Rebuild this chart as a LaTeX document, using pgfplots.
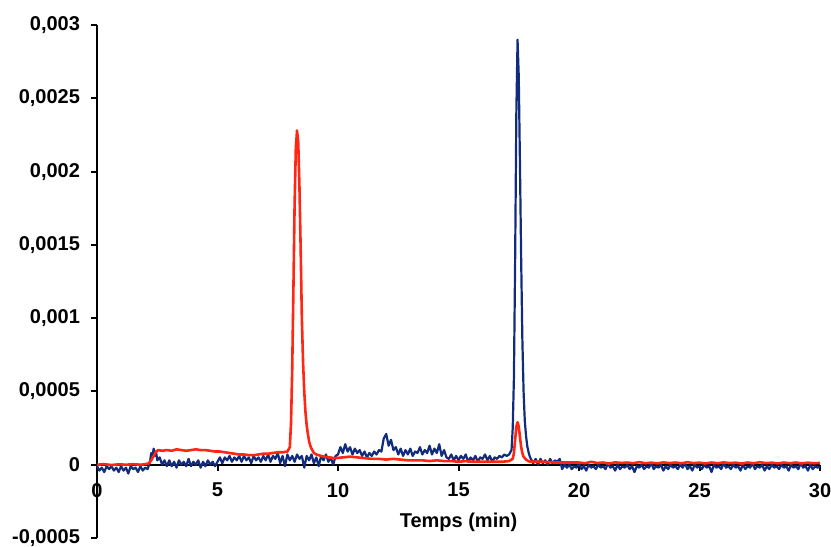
\documentclass[border=0pt]{standalone}
\usepackage{pgfplots}
\pgfplotsset{compat=1.18}
\usepackage{fontspec}
\setmainfont{Liberation Sans}
\definecolor{navy}{RGB}{18,44,125}
\definecolor{redl}{RGB}{255,38,20}
\begin{document}
\begin{tikzpicture}
\begin{axis}[
  name=ax,
  scale only axis,
  width=361.5pt, height=256.5pt,
  xmin=0, xmax=30, ymin=-0.0005, ymax=0.003,
  scaled y ticks=false,
  axis lines=middle,
  axis line style={-, line width=1pt, black},
  every inner x axis line/.append style={-},
  every inner y axis line/.append style={-},
  hide obscured x ticks=false, hide obscured y ticks=false,
  tick align=outside,
  major tick length=3pt,
  tick style={line width=1pt, black},
  xtick={0,5,10,15,20,25,30},
  xticklabels={0,5,10,15,20,25,30},
  ytick={-0.0005,0,0.0005,0.001,0.0015,0.002,0.0025,0.003},
  yticklabels={{-0,0005},0,{0,0005},{0,001},{0,0015},{0,002},{0,0025},{0,003}},
  tick label style={font=\fontsize{10}{12}\selectfont\bfseries},
  x tick label style={yshift=-2.7pt},
  y tick label style={xshift=-2pt},
  xlabel={Temps (min)},
  xlabel style={font=\fontsize{10}{12}\selectfont\bfseries, at={(axis description cs:0.5,0.031)}, anchor=center},
  clip=false,
]
\addplot[navy, line width=1.1pt, line join=round] coordinates {
(0,-1e-5)(0.1,-4e-5)(0.2,-2e-5)(0.3,-5e-5)(0.4,-1e-5)(0.5,-3e-5)(0.6,-1e-5)(0.7,-4e-5)(0.8,-2e-5)(0.9,-5e-5)
(1.0,-1e-5)(1.1,-4e-5)(1.2,-2e-5)(1.3,-6e-5)(1.4,-1e-5)(1.5,-3e-5)(1.6,-2e-5)(1.7,-5e-5)(1.8,-1e-5)(1.9,-4e-5)
(2.0,-2e-5)(2.1,-3e-5)(2.2,2e-5)(2.25,8e-5)(2.3,5e-5)(2.35,11e-5)(2.4,6e-5)(2.45,9e-5)(2.5,3e-5)(2.6,5e-5)
(2.7,0)(2.8,3e-5)(2.9,-1e-5)(3.0,3e-5)(3.1,-1e-5)(3.2,2e-5)(3.3,-2e-5)(3.4,3e-5)(3.5,0)(3.6,2e-5)
(3.7,-1e-5)(3.8,4e-5)(3.9,-1e-5)(4.0,2e-5)(4.1,0)(4.2,3e-5)(4.3,-2e-5)(4.4,2e-5)(4.5,-1e-5)(4.6,3e-5)
(4.7,0)(4.8,2e-5)(4.9,-1e-5)(5.0,2e-5)(5.1,5e-5)(5.2,1e-5)(5.3,5e-5)(5.4,3e-5)(5.5,6e-5)(5.6,2e-5)
(5.7,5e-5)(5.8,3e-5)(5.9,6e-5)(6.0,2e-5)(6.1,6e-5)(6.2,3e-5)(6.3,5e-5)(6.4,1e-5)(6.5,6e-5)(6.6,3e-5)
(6.7,5e-5)(6.8,2e-5)(6.9,6e-5)(7.0,3e-5)(7.1,7e-5)(7.2,2e-5)(7.3,6e-5)(7.4,4e-5)(7.5,8e-5)(7.6,1e-5)
(7.7,6e-5)(7.8,-1e-5)(7.9,7e-5)(8.0,3e-5)(8.1,6e-5)(8.2,2e-5)(8.3,7e-5)(8.4,4e-5)(8.5,6e-5)(8.6,-2e-5)
(8.7,6e-5)(8.8,3e-5)(8.9,7e-5)(9.0,1e-5)(9.1,5e-5)(9.2,-1e-5)(9.3,6e-5)(9.4,3e-5)(9.5,7e-5)(9.6,2e-5)
(9.7,5e-5)(9.8,0)(9.9,6e-5)(10.0,7e-5)(10.1,12e-5)(10.2,8e-5)(10.3,14e-5)(10.4,9e-5)(10.5,12e-5)(10.6,7e-5)
(10.7,11e-5)(10.8,8e-5)(10.9,10e-5)(11.0,6e-5)(11.1,9e-5)(11.2,5e-5)(11.3,8e-5)(11.4,6e-5)(11.5,9e-5)(11.6,7e-5)
(11.7,10e-5)(11.8,9e-5)(11.9,18e-5)(12.0,21e-5)(12.1,13e-5)(12.2,17e-5)(12.3,10e-5)(12.4,12e-5)(12.5,7e-5)(12.6,11e-5)
(12.7,6e-5)(12.8,10e-5)(12.9,7e-5)(13.0,11e-5)(13.1,6e-5)(13.2,9e-5)(13.3,8e-5)(13.4,12e-5)(13.5,7e-5)(13.6,10e-5)
(13.7,8e-5)(13.8,13e-5)(13.9,7e-5)(14.0,11e-5)(14.1,8e-5)(14.2,14e-5)(14.3,6e-5)(14.4,10e-5)(14.5,5e-5)(14.6,4e-5)
(14.7,7e-5)(14.8,3e-5)(14.9,6e-5)(15.0,3e-5)(15.1,6e-5)(15.2,4e-5)(15.3,7e-5)(15.4,2e-5)(15.5,5e-5)(15.6,3e-5)
(15.7,6e-5)(15.8,2e-5)(15.9,5e-5)(16.0,4e-5)(16.1,7e-5)(16.2,3e-5)(16.3,6e-5)(16.4,2e-5)(16.5,5e-5)(16.6,4e-5)
(16.7,6e-5)(16.8,5e-5)(16.9,7e-5)(17.0,6e-5)(17.1,7e-5)(17.2,10e-5)(17.25,25e-5)(17.3,60e-5)(17.35,140e-5)
(17.4,240e-5)(17.45,290e-5)(17.5,265e-5)(17.55,205e-5)(17.6,140e-5)(17.65,85e-5)(17.7,50e-5)(17.75,30e-5)
(17.8,20e-5)(17.85,13e-5)(17.9,9e-5)(17.95,6e-5)(18.0,4e-5)(18.1,1e-5)(18.2,4e-5)(18.3,0)(18.4,4e-5)(18.5,1e-5)
(18.6,3e-5)(18.7,0)(18.8,4e-5)(18.9,1e-5)(19.0,3e-5)(19.1,2e-5)(19.2,4e-5)(19.3,-3e-5)(19.4,0)(19.5,-2e-5)
(19.6,0)(19.7,-3e-5)(19.8,-1e-5)(19.9,-2e-5)(20.0,1e-5)(20.1,-3e-5)(20.2,-1e-5)(20.3,-4e-5)(20.4,0)(20.5,-2e-5)
(20.6,-1e-5)(20.7,-3e-5)(20.8,0)(20.9,-2e-5)(21.0,-1e-5)(21.1,-3e-5)(21.2,1e-5)(21.3,-2e-5)(21.4,-1e-5)(21.5,-4e-5)
(21.6,0)(21.7,-3e-5)(21.8,-1e-5)(21.9,-2e-5)(22.0,0)(22.1,-3e-5)(22.2,-1e-5)(22.3,-5e-5)(22.4,-1e-5)(22.5,-2e-5)
(22.6,0)(22.7,-3e-5)(22.8,-1e-5)(22.9,-2e-5)(23.0,1e-5)(23.1,-3e-5)(23.2,-1e-5)(23.3,-2e-5)(23.4,0)(23.5,-4e-5)
(23.6,-1e-5)(23.7,-3e-5)(23.8,0)(23.9,-2e-5)(24.0,-1e-5)(24.1,-3e-5)(24.2,0)(24.3,-2e-5)(24.4,1e-5)(24.5,-3e-5)
(24.6,-1e-5)(24.7,-4e-5)(24.8,0)(24.9,-2e-5)(25.0,-1e-5)(25.1,-3e-5)(25.2,0)(25.3,-2e-5)(25.4,-1e-5)(25.5,-5e-5)
(25.6,0)(25.7,-2e-5)(25.8,-1e-5)(25.9,-3e-5)(26.0,1e-5)(26.1,-2e-5)(26.2,-1e-5)(26.3,-3e-5)(26.4,0)(26.5,-2e-5)
(26.6,-1e-5)(26.7,-4e-5)(26.8,0)(26.9,-3e-5)(27.0,-1e-5)(27.1,-2e-5)(27.2,1e-5)(27.3,-3e-5)(27.4,-1e-5)(27.5,-2e-5)
(27.6,0)(27.7,-4e-5)(27.8,-1e-5)(27.9,-3e-5)(28.0,0)(28.1,-2e-5)(28.2,-1e-5)(28.3,-3e-5)(28.4,0)(28.5,-2e-5)
(28.6,-1e-5)(28.7,-4e-5)(28.8,0)(28.9,-2e-5)(29.0,-1e-5)(29.1,-3e-5)(29.2,1e-5)(29.3,-2e-5)(29.4,-1e-5)(29.5,-4e-5)
(29.6,0)(29.7,-3e-5)(29.8,-1e-5)(29.9,-2e-5)(30.0,-1e-5)
};
\addplot[redl, line width=1.3pt, line join=round] coordinates {
(0,0)(0.3,0.4e-5)(0.6,-0.2e-5)(0.9,0.3e-5)(1.2,0)(1.5,0.4e-5)(1.8,0)(2.0,0.3e-5)(2.15,1e-5)(2.25,3e-5)(2.35,6e-5)(2.45,9e-5)
(2.55,10e-5)(2.7,9.5e-5)(2.9,10e-5)(3.1,9.5e-5)(3.3,10.5e-5)(3.5,10e-5)(3.7,9.5e-5)(3.9,10e-5)(4.1,10.5e-5)(4.3,10e-5)
(4.5,10e-5)(4.7,9.5e-5)(4.9,9e-5)(5.1,9e-5)(5.3,8.5e-5)(5.5,8e-5)(5.7,7.5e-5)(5.9,7e-5)(6.1,7e-5)(6.3,6.5e-5)
(6.5,6.5e-5)(6.7,7e-5)(6.9,7.5e-5)(7.1,7.5e-5)(7.3,8e-5)(7.5,8.5e-5)(7.7,8.5e-5)(7.9,9e-5)(8.0,12e-5)
(8.05,28e-5)(8.1,65e-5)(8.15,120e-5)(8.2,178e-5)(8.25,216e-5)(8.3,228e-5)(8.35,220e-5)(8.4,190e-5)(8.45,148e-5)
(8.5,100e-5)(8.55,70e-5)(8.6,50e-5)(8.65,36e-5)(8.7,27e-5)(8.75,21e-5)(8.8,16e-5)(8.85,13e-5)(8.9,11e-5)(9.0,8e-5)
(9.1,7e-5)(9.3,6e-5)(9.6,5e-5)(9.9,4.5e-5)(10.2,5e-5)(10.5,5.5e-5)(10.8,5e-5)(11.1,4.5e-5)(11.4,4e-5)(11.7,4e-5)
(12.0,3.5e-5)(12.3,4e-5)(12.6,3.5e-5)(12.9,3e-5)(13.2,3e-5)(13.5,3e-5)(13.8,2.5e-5)(14.1,3e-5)(14.4,2.5e-5)(14.7,2.5e-5)
(15.0,2e-5)(15.3,2.5e-5)(15.6,2e-5)(15.9,2e-5)(16.2,2e-5)(16.5,2e-5)(16.8,2e-5)(17.1,2.5e-5)(17.25,4e-5)(17.3,8e-5)
(17.35,17e-5)(17.4,26e-5)(17.45,29e-5)(17.5,26e-5)(17.55,19e-5)(17.6,12e-5)(17.65,8e-5)(17.7,5.5e-5)(17.8,3.5e-5)
(17.9,2.5e-5)(18.0,2e-5)(18.5,2e-5)(19.0,1.5e-5)(19.5,1.5e-5)
(20.0,1.5e-5)(20.25,1e-5)(20.5,2e-5)(20.75,1.2e-5)(21.0,1.5e-5)(21.25,0.8e-5)(21.5,1.6e-5)(21.75,1.2e-5)(22.0,1.5e-5)
(22.25,1e-5)(22.5,1.8e-5)(22.75,1e-5)(23.0,1.4e-5)(23.25,0.9e-5)(23.5,1.6e-5)(23.75,1.1e-5)(24.0,1.5e-5)(24.25,1e-5)
(24.5,1.7e-5)(24.75,1.1e-5)(25.0,1.4e-5)(25.25,0.9e-5)(25.5,1.5e-5)(25.75,1e-5)(26.0,1.6e-5)(26.25,1.1e-5)(26.5,1.4e-5)
(26.75,0.8e-5)(27.0,1.5e-5)(27.25,1e-5)(27.5,1.7e-5)(27.75,1.1e-5)(28.0,1.4e-5)(28.25,0.9e-5)(28.5,1.5e-5)(28.75,1e-5)
(29.0,1.5e-5)(29.25,0.9e-5)(29.5,1.4e-5)(29.75,1e-5)(30.0,1.2e-5)
};
\end{axis}
\pgfresetboundingbox
\path ([shift={(-48.5pt,-4pt)}]ax.south west) rectangle ([shift={(5.5pt,12.5pt)}]ax.north east);
\end{tikzpicture}
\end{document}
